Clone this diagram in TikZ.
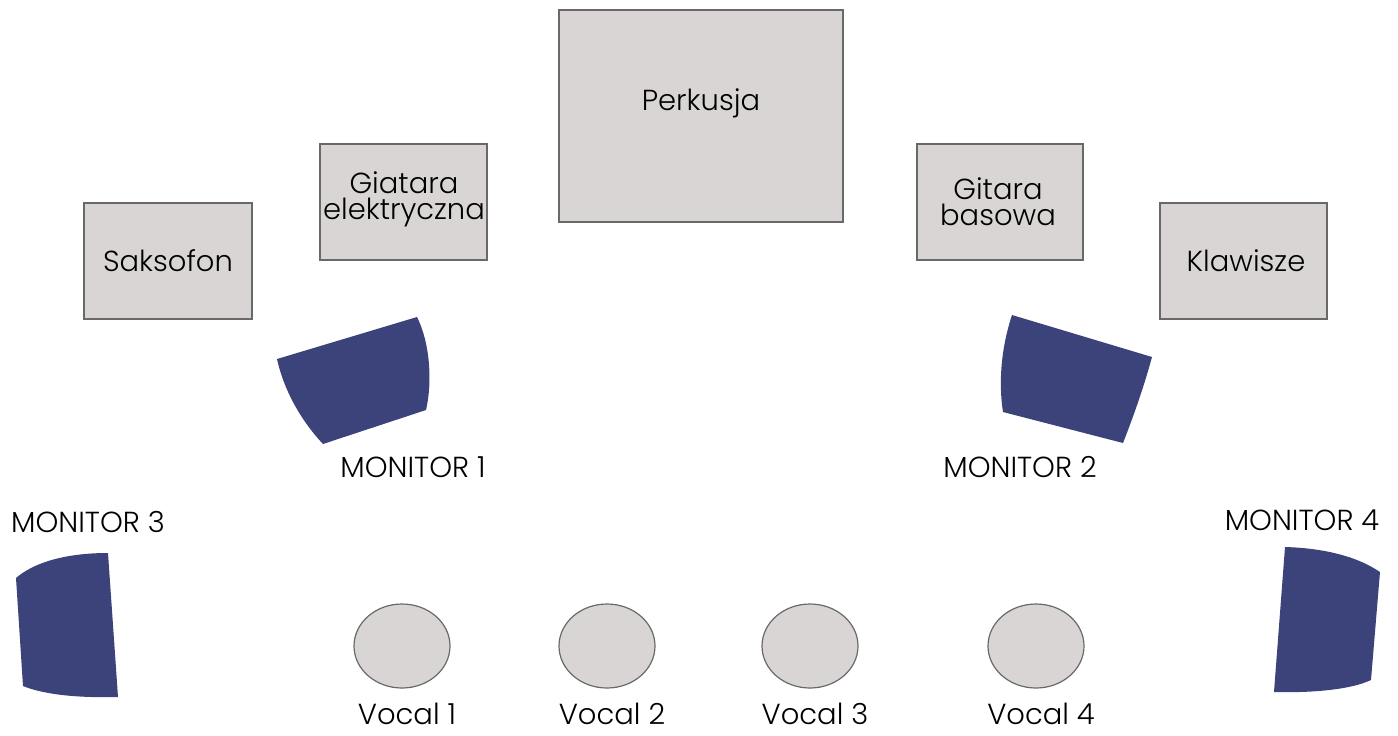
\documentclass[tikz,border=0pt]{standalone}
\usepackage{fontspec}
\setmainfont{Poppins}[UprightFont={* Light}]
\usepackage{xcolor}
\usepackage{tikz}

\definecolor{monblue}{RGB}{60,67,122}
\definecolor{boxgray}{RGB}{217,213,213}
\definecolor{edgegray}{RGB}{105,105,105}

\tikzset{
  instr/.style={fill=boxgray, draw=edgegray, line width=0.6pt},
  monitor/.style={fill=monblue, draw=none},
  lbl/.style={inner sep=0pt, align=center, font=\fontsize{14.5}{13}\selectfont}
}

\begin{document}
\begin{tikzpicture}[x=0.5pt, y=-0.5pt]
    \useasboundingbox (0,0) rectangle (1398,735);
    % instruments
    \filldraw[instr] (559,10) rectangle (843,222);
    \node[lbl] (perkusja) at (701,103) {Perkusja};
    \filldraw[instr] (320,144) rectangle (487,260);
    \node[lbl] (gitara) at (404,199) {Giatara\\elektryczna};
    \filldraw[instr] (84,203) rectangle (252,319);
    \node[lbl] (saksofon) at (168,261) {Saksofon};
    \filldraw[instr] (917,144) rectangle (1083,260);
    \node[lbl] (bas) at (998,202) {Gitara\\basowa};
    \filldraw[instr] (1160,203) rectangle (1327,319);
    \node[lbl] (klawisze) at (1246,261) {Klawisze};
    % monitors
    \fill[monitor] (277,359) -- (417,317) .. controls (431,345) and (432,385) .. (426,410)
        -- (323,444) .. controls (305,425) and (285,395) .. cycle;
    \fill[monitor] (1012,315) -- (1152,357) .. controls (1143,390) and (1132,420) .. (1123,443)
        -- (1003,412) .. controls (998,380) and (1002,345) .. cycle;
    \fill[monitor] (16,578) .. controls (32,564) and (62,553) .. (108,553)
        -- (118,697) .. controls (80,698) and (45,695) .. (23,686) -- cycle;
    \fill[monitor] (1285,547) .. controls (1320,548) and (1355,555) .. (1380,572)
        -- (1371,680) .. controls (1350,690) and (1310,693) .. (1274,692) -- cycle;
    \node[lbl] (mon1) at (413,467) {MONITOR 1};
    \node[lbl] (mon2) at (1020,467) {MONITOR 2};
    \node[lbl] (mon3) at (88,522) {MONITOR 3};
    \node[lbl] (mon4) at (1302,520) {MONITOR 4};
    % vocals
    \foreach \cx/\n in {402/1, 607/2, 810/3, 1036/4}
    {
        \filldraw[instr] (\cx,646) ellipse (48 and 42);
        \node[lbl] (vocal\n) at (\cx+5,714) {Vocal \n};
    }
\end{tikzpicture}
\end{document}
